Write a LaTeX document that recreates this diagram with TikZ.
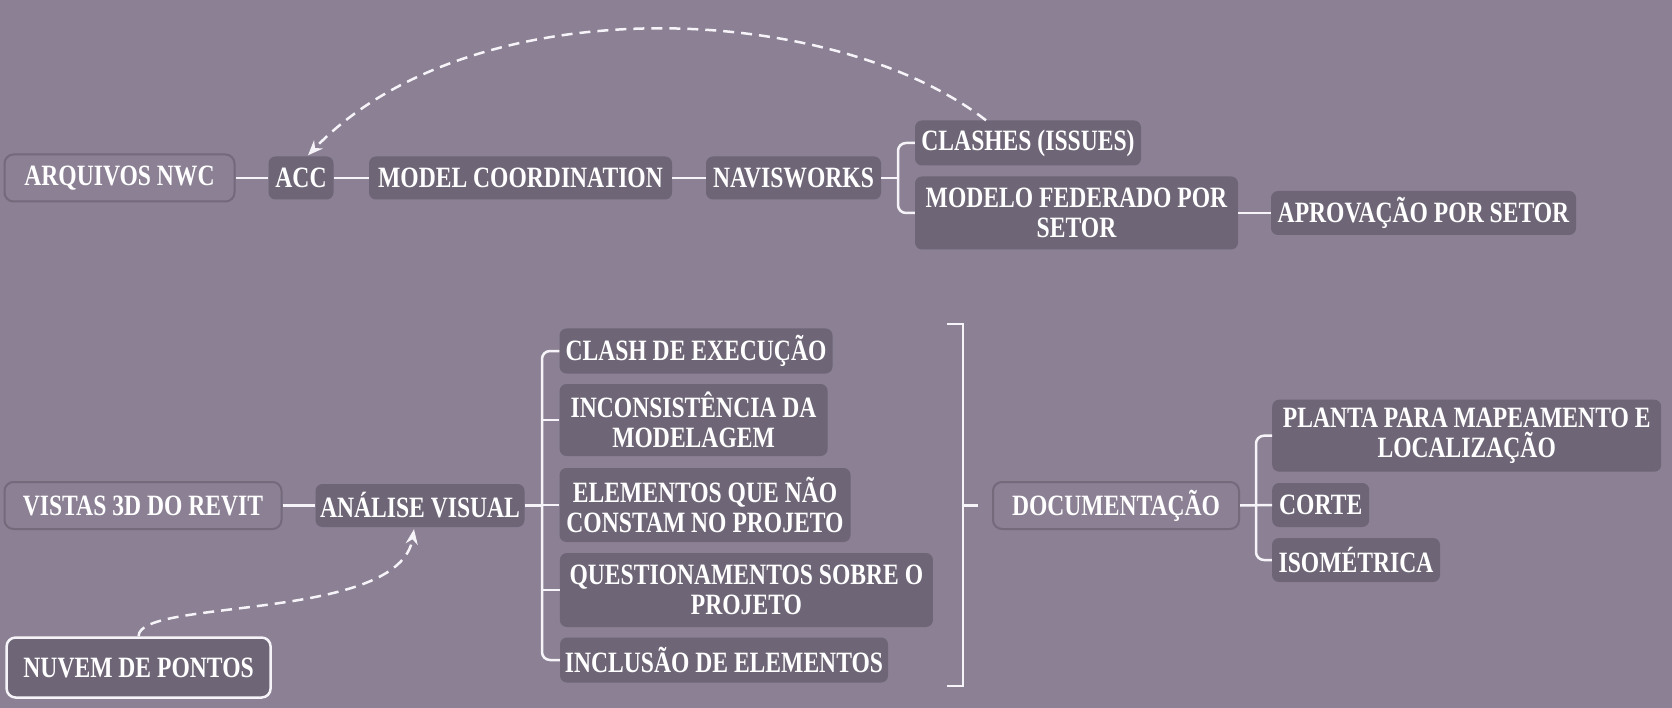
\documentclass[tikz,border=0pt]{standalone}
\usepackage{fontspec}
\setmainfont{Liberation Serif}[FakeStretch=0.8]
\usepackage{xcolor}
\usepackage{tikz}
\usetikzlibrary{arrows.meta,positioning,calc}
\definecolor{bg}{RGB}{139,128,148}
\definecolor{topicfill}{RGB}{110,101,119}
\definecolor{rootedge}{RGB}{116,106,124}
\definecolor{linkcol}{RGB}{246,244,248}

\begin{document}
\begin{tikzpicture}[x=1pt, y=-1pt, font=\fontsize{29.5}{30}\selectfont\bfseries, >=Stealth,
  topic/.style={fill=topicfill, text=white, rounded corners=7pt, align=center, inner xsep=3pt, inner ysep=3pt},
  rootbox/.style={topic, draw=rootedge, line width=2pt, fill=bg, rounded corners=9pt},
  link/.style={draw=linkcol, line width=2.5pt},
  relarrow/.style={draw=linkcol, line width=2.5pt, dash pattern=on 11pt off 7pt, -{Stealth[length=15pt,width=12pt]}}]
\fill[bg] (0,0) rectangle (1672,708);
\useasboundingbox (0,0) rectangle (1672,708);
% upper branch
\node[rootbox, minimum width=230pt, minimum height=47pt] (arquivos) at (119.5,178) {ARQUIVOS NWC};
\node[topic, minimum width=65pt, minimum height=43pt] (acc) at (301,178) {ACC};
\node[topic, minimum width=303pt, minimum height=43pt] (modelcoord) at (520.5,178) {MODEL COORDINATION};
\node[topic, minimum width=175pt, minimum height=43pt] (navis) at (793.5,178) {NAVISWORKS};
\node[topic, minimum width=226pt, minimum height=45pt] (clashes) at (1028,143) {CLASHES (ISSUES)};
\node[topic, minimum width=323pt, minimum height=73pt] (federado) at (1076.5,213) {MODELO FEDERADO POR\\SETOR};
\node[topic, minimum width=305pt, minimum height=44pt] (aprovacao) at (1423.5,213) {APROVAÇÃO POR SETOR};
\draw[link] (arquivos) -- (acc);
\draw[link] (acc) -- (modelcoord);
\draw[link] (modelcoord) -- (navis);
\draw[link] (federado) -- (aprovacao);
\coordinate (j1) at ($(navis.east)!.5!(navis.east -| clashes.west)$);
\draw[link] (navis.east) -- (j1);
\draw[link, rounded corners=8pt] (clashes.west) -| (j1) |- (federado.west);
\draw[relarrow] ($(clashes.north)+(-42,0)$) .. controls (830,0) and (470,-14) .. ($(acc.north)+(7,-1)$);
% lower branch
\node[rootbox, minimum width=277pt, minimum height=47pt] (vistas) at (143,505.5) {VISTAS 3D DO REVIT};
\node[topic, minimum width=209pt, minimum height=43pt] (analise) at (420,505.5) {ANÁLISE VISUAL};
\node[topic, draw=linkcol, line width=2.5pt, rounded corners=9pt, minimum width=264pt, minimum height=60pt] (nuvem) at (138.6,667.5) {NUVEM DE PONTOS};
\draw[link] (vistas) -- (analise);
\draw[relarrow] (nuvem.north) .. controls (138,598) and (400,622) .. ($(analise.south)+(-6,2)$);
\node[topic, minimum width=273pt, minimum height=45pt] (clash) at (696,351) {CLASH DE EXECUÇÃO};
\node[topic, minimum width=268pt, minimum height=72pt] (incons) at (693.6,420) {INCONSISTÊNCIA DA\\MODELAGEM};
\node[topic, minimum width=291pt, minimum height=74pt] (elem) at (705,505) {ELEMENTOS QUE NÃO\\CONSTAM NO PROJETO};
\node[topic, minimum width=373pt, minimum height=74pt] (quest) at (746.4,590) {QUESTIONAMENTOS SOBRE O\\PROJETO};
\node[topic, minimum width=328pt, minimum height=45pt] (inclus) at (724,660) {INCLUSÃO DE ELEMENTOS};
\coordinate (j2) at ($(analise.east)!.5!(analise.east -| clash.west)$);
\draw[link] (analise.east) -- (j2);
\draw[link, rounded corners=8pt] (clash.west) -| (j2) |- (inclus.west);
\foreach \n in {incons,elem,quest} \draw[link] (\n.west) -- (\n.west -| j2);
% summary bracket
\coordinate (s1) at (947,324);
\coordinate (s2) at (947,686);
\coordinate (s3) at (963,505.5);
\draw[link] (s1) -- ++(16,0) |- (s2);
\node[rootbox, minimum width=246pt, minimum height=47pt] (doc) at (1116,505.5) {DOCUMENTAÇÃO};
\draw[link] (s3) -- ($(doc.west)+(-14,0)$);
\node[topic, minimum width=389pt, minimum height=72pt] (planta) at (1466.7,435.7) {PLANTA PARA MAPEAMENTO E\\LOCALIZAÇÃO};
\node[topic, minimum width=97pt, minimum height=44pt] (corte) at (1320.7,505) {CORTE};
\node[topic, minimum width=168pt, minimum height=44pt] (iso) at (1356,560) {ISOMÉTRICA};
\coordinate (j3) at ($(doc.east)!.5!(doc.east -| corte.west)$);
\draw[link] (doc.east) -- (corte.west);
\draw[link, rounded corners=8pt] (planta.west) -| (j3) |- (iso.west);
\end{tikzpicture}
\end{document}
